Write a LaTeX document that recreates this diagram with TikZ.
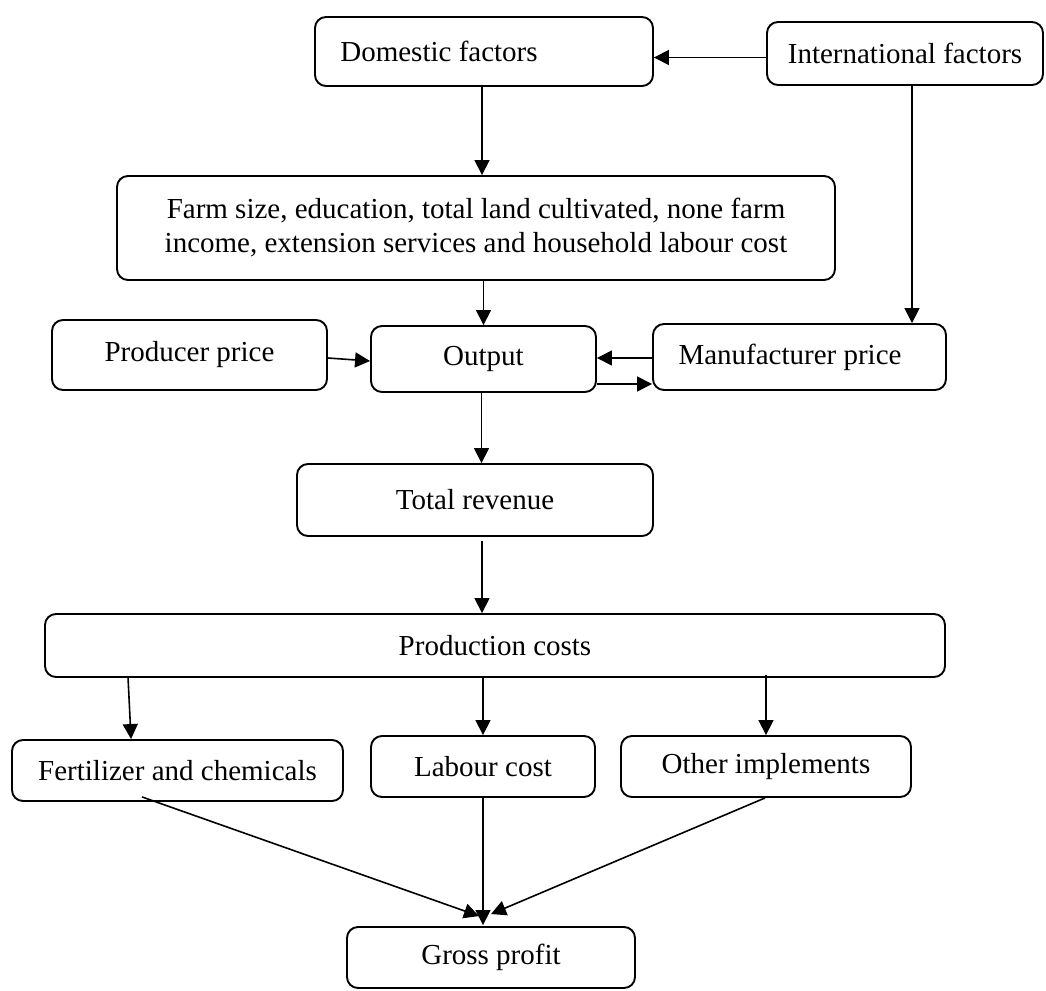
\documentclass[tikz,border=0pt]{standalone}
\usepackage{fontspec}
\setmainfont{Liberation Serif}
\usetikzlibrary{arrows.meta,calc}
\begin{document}
\begin{tikzpicture}[x=1pt,y=-1pt,
  box/.style={draw, line width=1.9pt, rounded corners=11pt, inner sep=0pt, align=center,
    font=\fontsize{29}{34}\selectfont},
  arr/.style={line width=1.6pt, -{Triangle[length=15pt,width=15pt]}}]
\useasboundingbox (0,0) rectangle (1046,990);
% nodes
\node[box, minimum width=338pt, minimum height=69pt] (dom) at (484,51.5) {Domestic factors\hspace{90pt}};
\node[box, minimum width=276pt, minimum height=63pt] (intl) at (905,53.5) {International factors};
\node[box, minimum width=718pt, minimum height=104pt] (farm) at (476,228) {Farm size, education, total land cultivated, none farm\\income, extension services and household labour cost};
\node[box, minimum width=275pt, minimum height=70pt] (prod) at (189.5,355) {Producer price};
\node[box, minimum width=225pt, minimum height=66pt] (out) at (483.5,359) {Output};
\node[box, minimum width=293pt, minimum height=66pt] (manu) at (799.5,357) {Manufacturer price\hspace{19pt}};
\node[box, minimum width=356pt, minimum height=72pt] (rev) at (475,500) {Total revenue};
\node[box, minimum width=900pt, minimum height=63pt] (cost) at (495,645.5) {Production costs};
\node[box, minimum width=331pt, minimum height=61pt] (fert) at (177.5,770.5) {Fertilizer and chemicals};
\node[box, minimum width=224pt, minimum height=61pt] (lab) at (483,766.5) {Labour cost};
\node[box, minimum width=290pt, minimum height=61pt] (oth) at (766,766.5) {Other implements};
\node[box, minimum width=288pt, minimum height=61pt] (gross) at (491,957.5) {Gross profit};
% connectors
\draw[arr] ([yshift=-4pt]intl.west) -- ([yshift=-4pt]intl.west -| dom.east);
\draw[arr] ([xshift=-2pt]dom.south) -- ([xshift=-2pt]dom.south |- farm.north);
\draw[arr] (farm.south -| out.north) -- (out.north);
\draw[arr] ([xshift=7pt]intl.south) -- ([xshift=7pt]intl.south |- manu.north);
\draw[arr] ([yshift=-3pt]prod.east) -- ([yshift=-2pt]out.west);
\draw[arr] ([yshift=-1pt]manu.west) -- ([yshift=-1pt]manu.west -| out.east);
\draw[arr] ([yshift=-25pt]out.east) -- ([yshift=-25pt]out.east -| manu.west);
\draw[arr] ([xshift=-2pt]out.south) -- ([xshift=-2pt]out.south |- rev.north);
\draw[arr] ([xshift=7pt,yshift=-4pt]rev.south) -- ([xshift=7pt]rev.south |- cost.north);
\draw[arr] ($(cost.south west)+(84,0)$) -- ($(fert.north west)+(120,0)$);
\draw[arr] (lab.north |- cost.south) -- (lab.north);
\draw[arr] ([yshift=3pt]oth.north |- cost.south) -- (oth.north);
\draw[arr] ($(fert.south west)+(131,-5)$) -- ($(gross.north)+(-12,-10)$);
\draw[arr] (lab.south) -- ($(gross.north)+(-8,-1)$);
\draw[arr] ($(oth.south)+(-1,0)$) -- ($(gross.north)+(0,-12)$);
\end{tikzpicture}
\end{document}
